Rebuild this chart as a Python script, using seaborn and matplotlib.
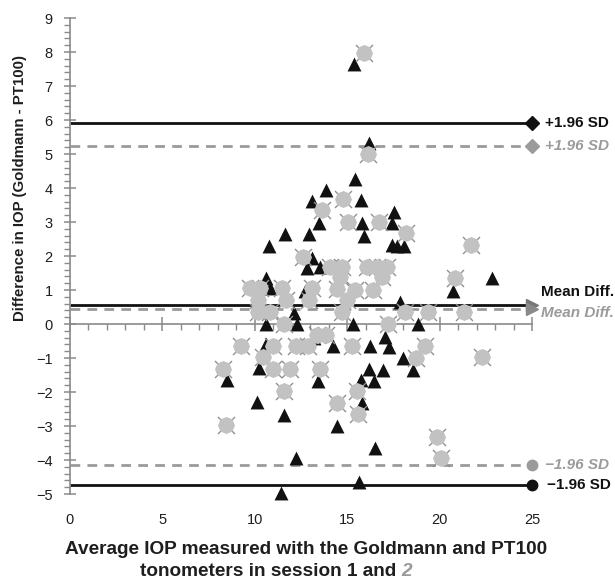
import matplotlib
matplotlib.use("Agg")
import matplotlib.pyplot as plt
import seaborn as sns
import pandas as pd
from matplotlib.ticker import MultipleLocator

# ---------------- data ----------------
session1_x = [15.37, 16.2, 15.42, 13.86, 13.1, 15.77, 17.54, 13.5, 15.82, 17.4,
              11.63, 12.93, 15.93, 10.78, 17.4, 17.7, 18.08, 13.08, 12.8, 13.52,
              10.6, 10.84, 12.7, 22.85, 20.74, 17.86, 12.12, 10.6, 12.27, 15.32,
              18.85, 10.6, 14.25, 16.23, 17.05, 17.26, 18.04, 18.58, 10.22, 16.2,
              16.92, 8.48, 13.44, 15.75, 16.45, 10.14, 15.78, 11.6, 14.43, 16.48,
              12.25, 15.62, 11.42, 13.2]
session1_y = [7.65, 5.31, 4.27, 3.95, 3.62, 3.65, 3.3, 2.97, 2.96, 2.97,
              2.65, 2.64, 2.6, 2.3, 2.33, 2.3, 2.3, 1.93, 1.64, 1.68,
              1.34, 1.05, 0.97, 1.34, 0.98, 0.65, 0.31, 0.0, 0.0, 0.0,
              0.0, -0.6, -0.65, -0.65, -0.37, -0.69, -1.01, -1.35, -1.3, -1.32,
              -1.35, -1.66, -1.67, -1.65, -1.67, -2.3, -2.33, -2.68, -3.0, -3.65,
              -3.95, -4.65, -4.97, -0.4]

session2_x = [15.91, 16.14, 14.76, 13.65, 15.06, 16.74, 18.2, 21.7, 12.63, 14.07,
              14.7, 16.05, 16.6, 17.14, 14.61, 16.87, 20.83, 9.74, 10.28, 11.45,
              13.08, 14.43, 15.42, 16.41, 10.19, 11.7, 12.95, 14.97, 10.19, 10.8,
              14.7, 18.13, 19.39, 21.34, 11.6, 17.2, 9.25, 10.97, 12.23, 12.9,
              13.37, 13.86, 15.24, 19.23, 10.45, 18.74, 22.31, 8.3, 10.97, 11.9,
              13.55, 11.56, 15.53, 14.45, 15.6, 8.46, 19.84, 20.1]
session2_y = [7.98, 5.0, 3.67, 3.35, 3.01, 3.01, 2.67, 2.32, 1.98, 1.69,
              1.69, 1.69, 1.69, 1.69, 1.39, 1.39, 1.34, 1.05, 1.05, 1.05,
              1.05, 1.02, 1.0, 1.0, 0.72, 0.71, 0.71, 0.71, 0.36, 0.36,
              0.36, 0.36, 0.36, 0.36, 0.0, 0.0, -0.66, -0.66, -0.66, -0.66,
              -0.33, -0.33, -0.66, -0.66, -0.96, -0.99, -0.98, -1.32, -1.32, -1.32,
              -1.32, -1.96, -1.96, -2.33, -2.65, -2.97, -3.31, -3.95]

limit_labels = ["+1.96 SD", "Mean Diff.", "\u22121.96 SD"]
session1_limits = [5.91, 0.56, -4.74]
session2_limits = [5.24, 0.45, -4.15]

x_ticks = [0, 5, 10, 15, 20, 25]
y_ticks = list(range(-5, 10))

ylabel = "Difference in IOP (Goldmann - PT100)"
xlabel_line1 = "Average IOP measured with the Goldmann and PT100"
xlabel_line2 = "tonometers in session 1 and "
xlabel_session2 = "2"

# ---------------- style ----------------
sns.set_theme(style="ticks")
plt.rcParams['font.family'] = ['Liberation Sans', 'DejaVu Sans']

BLACK = "#111111"
GREY = "#9b9b9b"
LIGHT = "#c2c2c2"
AXIS = "#8a8a8a"
TXT = "#1e1e1e"
LBL = 11


def style_ticks(ax):
    ax.set_xticks(x_ticks)
    ax.set_yticks(y_ticks)
    ax.xaxis.set_minor_locator(MultipleLocator(1))
    ax.yaxis.set_minor_locator(MultipleLocator(0.2))
    ax.tick_params(axis="y", which="major", direction="inout", length=9, width=1.1,
                   color=AXIS, labelsize=10.5, labelcolor=TXT, pad=8, left=True)
    ax.tick_params(axis="y", which="minor", direction="out", length=4, width=1.0,
                   color=AXIS, left=True)
    ax.tick_params(axis="x", which="major", direction="inout", length=10, width=1.1,
                   color=AXIS, labelbottom=False, bottom=True)
    ax.tick_params(axis="x", which="minor", direction="out", length=4, width=1.0,
                   color=AXIS, bottom=True)


fig = plt.figure(figsize=(6.15, 5.8), dpi=100)
ax = fig.add_axes([70 / 615, 86 / 580, 462 / 615, 476 / 580])

ax.set_xlim(x_ticks[0], x_ticks[-1])
ax.set_ylim(y_ticks[0], y_ticks[-1])
for s in ["top", "right"]:
    ax.spines[s].set_visible(False)
ax.spines["bottom"].set_position(("data", 0))
for s in ["left", "bottom"]:
    ax.spines[s].set_color(AXIS)
    ax.spines[s].set_linewidth(1.2)
style_ticks(ax)

# scatter points
df1 = pd.DataFrame({"avg": session1_x, "diff": session1_y})
df2 = pd.DataFrame({"avg": session2_x, "diff": session2_y})
sns.scatterplot(data=df1, x="avg", y="diff", marker="^", s=100, color=BLACK,
                edgecolor=BLACK, linewidth=0, ax=ax, clip_on=False, zorder=3)
sns.scatterplot(data=df2, x="avg", y="diff", marker="x", s=150, color="#8f8f8f",
                linewidth=1.0, ax=ax, clip_on=False, zorder=4)
sns.scatterplot(data=df2, x="avg", y="diff", marker=(8, 0, 0), s=150, color=LIGHT,
                edgecolor=LIGHT, linewidth=0, ax=ax, clip_on=False, zorder=4.5)

# limit lines
end_markers = ["D", ">", "o"]
for v in session1_limits:
    ax.plot([x_ticks[0], x_ticks[-1]], [v, v], color=BLACK, lw=2.0, zorder=2,
            solid_capstyle="butt")
for v in session2_limits:
    ax.plot([x_ticks[0], x_ticks[-1]], [v, v], color=GREY, lw=2.0, zorder=2,
            linestyle=(0, (3.5, 2.6)))
for v, m in zip(session1_limits, end_markers):
    ax.plot([x_ticks[-1]], [v], marker=m, linestyle="none",
            color=BLACK if m != ">" else "#777777",
            markersize=7.5 if m != ">" else 9, clip_on=False, zorder=5)
for v, m in zip(session2_limits, end_markers):
    ax.plot([x_ticks[-1]], [v], marker=m, linestyle="none",
            color=GREY if m != ">" else "#8a8a8a",
            markersize=7.5 if m != ">" else 9, clip_on=False, zorder=5)

ax.set_xlim(x_ticks[0], x_ticks[-1])
ax.set_ylim(y_ticks[0], y_ticks[-1])

# right-hand labels
tx = 25.7
ax.text(tx, session1_limits[0], limit_labels[0], color=BLACK, fontsize=LBL,
        fontweight="bold", va="center", ha="left", clip_on=False)
ax.text(tx, session2_limits[0], limit_labels[0], color=GREY, fontsize=LBL,
        fontweight="bold", style="italic", va="center", ha="left", clip_on=False)
ax.text(25.5, session1_limits[1] + 0.38, limit_labels[1], color=BLACK, fontsize=LBL,
        fontweight="bold", va="center", ha="left", clip_on=False)
ax.text(25.5, session2_limits[1] - 0.13, limit_labels[1], color=GREY, fontsize=LBL,
        fontweight="bold", style="italic", va="center", ha="left", clip_on=False)
ax.text(tx, session2_limits[2], limit_labels[2], color=GREY, fontsize=LBL,
        fontweight="bold", style="italic", va="center", ha="left", clip_on=False)
ax.text(tx + 0.1, session1_limits[2], limit_labels[2], color=BLACK, fontsize=LBL,
        fontweight="bold", va="center", ha="left", clip_on=False)

for tick_value in x_ticks:
    ax.text(tick_value, -0.055, str(tick_value), transform=ax.get_xaxis_transform(),
            ha="center", va="center", fontsize=10.5, color=TXT)

ax.set_xlabel("")
ax.set_ylabel(ylabel, fontsize=10.8, fontweight="bold", color=TXT)
ax.yaxis.set_label_coords(-0.093, 0.643)

XL = 13.7
fig.text(306 / 615, 1 - 550 / 580, xlabel_line1, ha="center", va="center",
         fontsize=XL, fontweight="bold", color=TXT)
line2 = fig.text(140 / 615, 1 - 571 / 580, xlabel_line2, ha="left", va="center",
                 fontsize=XL, fontweight="bold", color=TXT)
fig.text(0, 0, xlabel_session2, ha="left", va="bottom", fontsize=XL,
         fontweight="bold", style="italic", color=GREY,
         transform=matplotlib.transforms.offset_copy(
             matplotlib.transforms.IdentityTransform(), fig=fig))
fig.texts[-1].remove()
ax.annotate(xlabel_session2, xy=(1, 0), xycoords=line2, ha="left", va="bottom",
            fontsize=XL, fontweight="bold", style="italic", color=GREY,
            annotation_clip=False)

# re-apply tick styling last
style_ticks(ax)
ax.xaxis.set_zorder(2.6)
ax.yaxis.set_zorder(2.6)

fig.savefig("out.png", dpi=100)
